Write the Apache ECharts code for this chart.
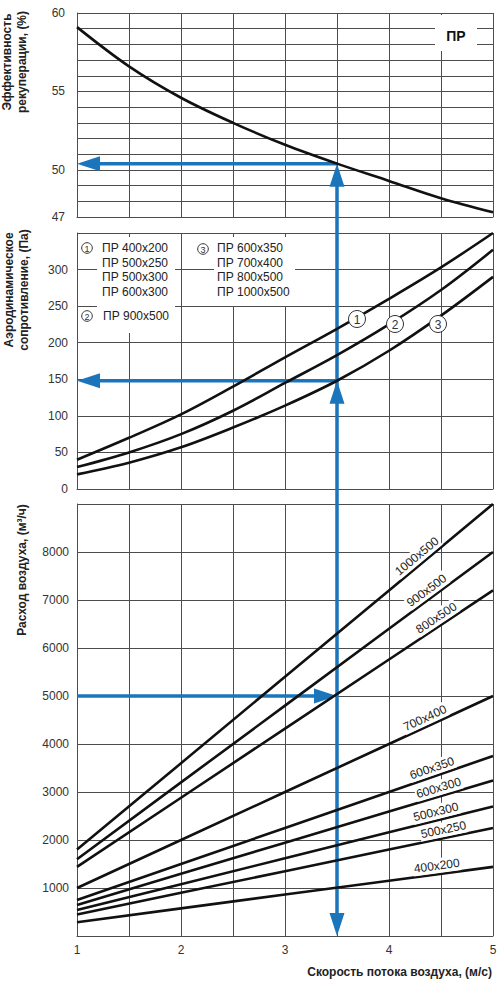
<!DOCTYPE html>
<html>
<head>
<meta charset="utf-8">
<script src="https://cdn.jsdelivr.net/npm/echarts@6/dist/echarts.min.js"></script>
<style>
html,body{margin:0;padding:0;background:#fff;}
#c{width:500px;height:988px;}
</style>
</head>
<body>
<div id="c"></div>
<script>
// ---------- data ----------
const velocity = [1, 1.5, 2, 2.5, 3, 3.5, 4, 4.5, 5];
const efficiency = [59.1, 56.6, 54.6, 53.0, 51.6, 50.4, 49.3, 48.2, 47.3];
const pressure1 = [40, 70, 102, 140, 180, 219, 260, 303, 350];
const pressure2 = [30, 50, 75, 107, 145, 183, 225, 272, 327];
const pressure3 = [20, 36, 57, 84, 114, 148, 189, 237, 290];

const flowVelocity = [1, 2, 3, 4, 5];
const flow1000x500 = [1800, 3600, 5400, 7200, 9000];
const flow900x500 = [1600, 3200, 4800, 6400, 8000];
const flow800x500 = [1440, 2880, 4320, 5760, 7200];
const flow700x400 = [1000, 2000, 3000, 4000, 5000];
const flow600x350 = [750, 1500, 2250, 3000, 3750];
const flow600x300 = [648, 1296, 1944, 2592, 3240];
const flow500x300 = [540, 1080, 1620, 2160, 2700];
const flow500x250 = [450, 900, 1350, 1800, 2250];
const flow400x200 = [288, 576, 864, 1152, 1440];
const flowNames = ['1000x500', '900x500', '800x500', '700x400', '600x350', '600x300', '500x300', '500x250', '400x200'];
const flowValues = [flow1000x500, flow900x500, flow800x500, flow700x400, flow600x350, flow600x300, flow500x300, flow500x250, flow400x200];
const flowLabelAt = [4.32, 4.41, 4.5, 4.38, 4.44, 4.5, 4.47, 4.54, 4.47];

const legendGroup1 = ['ПР 400x200', 'ПР 500x250', 'ПР 500x300', 'ПР 600x300'];
const legendGroup2 = ['ПР 900x500'];
const legendGroup3 = ['ПР 600x350', 'ПР 700x400', 'ПР 800x500', 'ПР 1000x500'];

const xTicks = [1, 2, 3, 4, 5];
const efficiencyTicks = [47, 50, 55, 60];
const pressureTicks = [0, 50, 100, 150, 200, 250, 300];
const flowTicks = [1000, 2000, 3000, 4000, 5000, 6000, 7000, 8000];

const exampleVelocity = 3.5;
const exampleFlow = 5000;
const examplePressure = 148;
const exampleEfficiency = 50.4;

// ---------- style ----------
const FONT = "'Liberation Sans', Arial, Helvetica, sans-serif";
const GRID_COLOR = '#4d4d4d';
const BLUE = '#1b75bb';
const CURVE = '#111';

const chart = echarts.init(document.getElementById('c'), null, {renderer: 'svg', width: 500, height: 988});

function xAxisFor(i, showLabels) {
  return {
    type: 'value', gridIndex: i, min: 1, max: 5, interval: 0.5,
    axisLine: {show: true, lineStyle: {color: GRID_COLOR, width: 1}},
    axisTick: {show: false},
    axisLabel: {show: showLabels, margin: 8, color: '#333', fontSize: 12, fontFamily: FONT,
      formatter: v => xTicks.includes(v) ? String(v) : ''},
    splitLine: {show: true, lineStyle: {color: GRID_COLOR, width: 1}}
  };
}
function yAxisFor(i, min, max, interval, ticks, margin) {
  return {
    type: 'value', gridIndex: i, min: min, max: max, interval: interval,
    axisLine: {show: true, lineStyle: {color: GRID_COLOR, width: 1}},
    axisTick: {show: false},
    axisLabel: {margin: margin, color: '#333', fontSize: 12, fontFamily: FONT,
      formatter: v => ticks.includes(v) ? String(v) : ''},
    splitLine: {show: true, lineStyle: {color: GRID_COLOR, width: 1}}
  };
}
const pairs = (xs, ys) => xs.map((x, i) => [x, ys[i]]);
function curve(g, data, smooth) {
  return {type: 'line', xAxisIndex: g, yAxisIndex: g, data: data, smooth: smooth,
    symbol: 'none', silent: true, z: 3,
    lineStyle: {color: CURVE, width: 2.6}};
}

const series = [
  curve(0, pairs(velocity, efficiency), 0.35),
  curve(1, pairs(velocity, pressure1), 0.35),
  curve(1, pairs(velocity, pressure2), 0.35),
  curve(1, pairs(velocity, pressure3), 0.35)
];
flowValues.forEach(vals => series.push(curve(2, pairs(flowVelocity, vals), false)));

chart.setOption({
  animation: false,
  backgroundColor: '#fff',
  grid: [
    {left: 77, right: 7, top: 13, height: 204},
    {left: 77, right: 7, top: 233, height: 256},
    {left: 77, right: 7, top: 504, height: 432}
  ],
  xAxis: [xAxisFor(0, false), xAxisFor(1, false), xAxisFor(2, true)],
  yAxis: [
    yAxisFor(0, 47, 60, 1, efficiencyTicks, 12),
    yAxisFor(1, 0, 350, 50, pressureTicks, 9),
    yAxisFor(2, 0, 9000, 1000, flowTicks, 8)
  ],
  series: series
});

// ---------- annotations ----------
const px = (g, x, y) => chart.convertToPixel({gridIndex: g}, [x, y]);
const g = [];

function seg(a, b) {
  return {type: 'line', z: 1, silent: true, shape: {x1: a[0], y1: a[1], x2: b[0], y2: b[1]},
    style: {stroke: BLUE, lineWidth: 3.5}};
}
function head(tip, dir) {
  const L = 23, W = 7.5, x = tip[0], y = tip[1];
  let pts;
  if (dir === 'up') pts = [[x, y], [x - W, y + L], [x + W, y + L]];
  else if (dir === 'down') pts = [[x, y], [x - W, y - L], [x + W, y - L]];
  else if (dir === 'left') pts = [[x, y], [x + L, y - W], [x + L, y + W]];
  else pts = [[x, y], [x - L, y - W], [x - L, y + W]];
  return {type: 'polygon', z: 1, silent: true, shape: {points: pts}, style: {fill: BLUE}};
}
const pEff = px(0, exampleVelocity, exampleEfficiency);
const pEffL = px(0, 1, exampleEfficiency);
const pPres = px(1, exampleVelocity, examplePressure);
const pPresL = px(1, 1, examplePressure);
const pFlow = px(2, exampleVelocity, exampleFlow);
const pFlowL = px(2, 1, exampleFlow);
const pBottom = px(2, exampleVelocity, 0);

g.push(seg([pEff[0], pEff[1] + 12], [pBottom[0], pBottom[1] - 12]));
g.push(seg([pEff[0], pEff[1]], [pEffL[0] + 12, pEffL[1]]));
g.push(seg([pPres[0], pPres[1]], [pPresL[0] + 12, pPresL[1]]));
g.push(seg([pFlowL[0], pFlowL[1]], [pFlow[0] - 12, pFlow[1]]));
g.push(head(pEff, 'up'));
g.push(head(pEffL, 'left'));
g.push(head(pPres, 'up'));
g.push(head(pPresL, 'left'));
g.push(head(pFlow, 'right'));
g.push(head(pBottom, 'down'));

function txt(x, y, text, opts) {
  opts = opts || {};
  const st = {
    text: text, x: 0, y: 0,
    font: (opts.bold ? 'bold ' : '') + (opts.size || 12) + 'px ' + FONT,
    fill: opts.fill || '#222',
    align: opts.align || 'left', textAlign: opts.align || 'left',
    verticalAlign: 'middle', textVerticalAlign: 'middle',
    lineHeight: opts.lineHeight || 15
  };
  if (opts.bg) { st.backgroundColor = opts.bg; st.textBackgroundColor = opts.bg; st.padding = [0, 1]; st.textPadding = [0, 1]; }
  return {type: 'text', x: x, y: y, rotation: opts.rotation || 0, z: opts.z || 4, silent: true, style: st};
}
function circleNum(x, y, r, num, size) {
  g.push({type: 'circle', z: 5, silent: true, shape: {cx: x, cy: y, r: r},
    style: {fill: '#fff', stroke: '#333', lineWidth: 1}});
  g.push(txt(x, y + 0.5, num, {align: 'center', size: size, z: 6, fill: '#333'}));
}

// axis titles
g.push(txt(14, 62, 'Эффективность\nрекуперации, (%)', {bold: true, align: 'center', rotation: Math.PI / 2}));
g.push(txt(16, 290, 'Аэродинамическое\nсопротивление, (Па)', {bold: true, align: 'center', rotation: Math.PI / 2}));
g.push(txt(22, 570, 'Расход воздуха, (м³/ч)', {bold: true, align: 'center', rotation: Math.PI / 2}));
g.push(txt(492, 972, 'Скорость потока воздуха, (м/с)', {bold: true, align: 'right'}));

// "ПР" tag
g.push({type: 'rect', z: 1, silent: true, shape: {x: 435, y: 15, width: 42, height: 36}, style: {fill: '#fff'}});
g.push(txt(456, 36, 'ПР', {bold: true, size: 14, align: 'center', fill: '#111'}));

// legend block in middle panel
g.push({type: 'rect', z: 1, silent: true, shape: {x: 97, y: 237, width: 78, height: 96}, style: {fill: '#fff'}});
g.push({type: 'rect', z: 1, silent: true, shape: {x: 214, y: 237, width: 81, height: 69}, style: {fill: '#fff'}});
legendGroup1.forEach((t, i) => g.push(txt(102, 248 + i * 14.7, t)));
legendGroup2.forEach((t, i) => g.push(txt(103, 316 + i * 14.7, t)));
legendGroup3.forEach((t, i) => g.push(txt(217, 248 + i * 14.7, t)));
circleNum(87, 248, 5.3, '1', 9);
circleNum(87, 316, 5.3, '2', 9);
circleNum(203, 249, 5.3, '3', 9);

// curve markers in middle panel
circleNum(357, 319, 8.5, '1', 12);
circleNum(395, 324, 8.5, '2', 12);
circleNum(438, 324, 8.5, '3', 12);

// size labels along the flow lines
function interp(xs, ys, v) {
  for (let i = 0; i < xs.length - 1; i++) {
    if (v >= xs[i] && v <= xs[i + 1]) {
      const t = (v - xs[i]) / (xs[i + 1] - xs[i]);
      return ys[i] + t * (ys[i + 1] - ys[i]);
    }
  }
  return ys[ys.length - 1];
}
flowNames.forEach((name, k) => {
  const vals = flowValues[k];
  const a = px(2, flowVelocity[0], vals[0]);
  const b = px(2, flowVelocity[flowVelocity.length - 1], vals[vals.length - 1]);
  const theta = Math.atan2(a[1] - b[1], b[0] - a[0]);
  const v = flowLabelAt[k];
  const p = px(2, v, interp(flowVelocity, vals, v));
  const off = 8.5;
  const x = p[0] - off * Math.sin(theta);
  const y = p[1] - off * Math.cos(theta);
  g.push(txt(x, y, name, {align: 'center', rotation: theta, bg: '#fff', z: 4}));
});

chart.setOption({graphic: g});
</script>
</body>
</html>
